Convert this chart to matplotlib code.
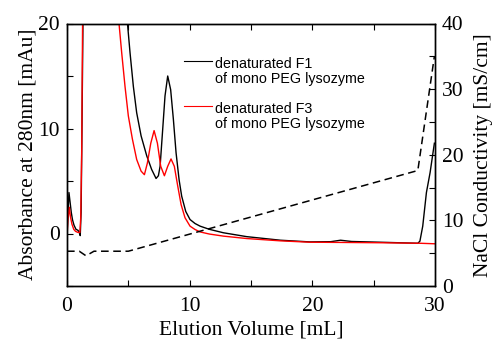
import numpy as np
import matplotlib
matplotlib.use("Agg")
import matplotlib.pyplot as plt
from matplotlib.lines import Line2D
from matplotlib.legend_handler import HandlerLine2D
from matplotlib.ticker import MultipleLocator

# ---- data ----
f1_x = [0.0, 0.08, 0.16, 0.25, 0.35, 0.45, 0.57, 0.73, 0.9, 1.0, 1.08, 1.15, 1.22, 1.3, 1.4,
        4.7, 4.93, 5.14, 5.41, 5.68, 6.04, 6.5, 6.9, 7.26, 7.45, 7.59, 7.8, 7.99, 8.21,
        8.45, 8.67, 8.89, 9.14, 9.35, 9.68, 10.03, 10.44, 10.85, 11.6, 12.75, 14.65,
        17.4, 19.8, 21.5, 22.3, 23.2, 25.5, 28.6, 28.77, 29.0, 29.3, 29.6, 29.95]
f1_y = [-0.2, 2.0, 3.9, 3.0, 2.0, 1.3, 0.8, 0.4, 0.3, 0.1, -0.2, 2.0, 10.0, 20.0, 25.0,
        25.0, 20.0, 17.2, 14.0, 11.5, 9.3, 7.4, 6.1, 5.24, 5.5, 6.4, 9.9, 13.1, 15.0,
        13.7, 10.9, 7.7, 5.1, 3.55, 2.1, 1.33, 0.95, 0.7, 0.4, 0.07, -0.3,
        -0.64, -0.8, -0.78, -0.64, -0.76, -0.83, -0.93, -0.73, 0.7, 3.9, 5.8, 8.6]

f3_x = [0.0, 0.08, 0.19, 0.28, 0.4, 0.55, 0.7, 0.9, 1.05, 1.12, 1.2, 1.27, 1.35,
        4.1, 4.24, 4.46, 4.73, 5.0, 5.33, 5.68, 6.04, 6.31, 6.55, 6.83, 7.1, 7.37,
        7.64, 7.94, 8.21, 8.48, 8.75, 9.03, 9.3, 9.62, 10.03, 10.44, 10.85, 11.6,
        12.75, 14.65, 17.4, 19.8, 22.3, 25.5, 28.8, 30.0]
f3_y = [-0.3, 1.3, 2.5, 1.6, 0.9, 0.4, 0.2, 0.1, 0.1, 1.5, 8.0, 20.0, 25.0,
        25.0, 20.0, 17.2, 14.0, 11.2, 9.0, 7.05, 5.94, 5.6, 6.7, 8.6, 9.8, 8.6,
        6.4, 5.5, 6.4, 7.1, 6.4, 4.5, 2.76, 1.5, 0.7, 0.38, 0.15, -0.05,
        -0.25, -0.48, -0.7, -0.83, -0.85, -0.88, -0.93, -0.98]

cond_x = [0.0, 1.0, 1.55, 2.2, 5.0, 28.6, 29.95]
cond_y = [5.3, 5.3, 4.6, 5.3, 5.3, 17.6, 35.0]

labels = ["denaturated F1\nof mono PEG lysozyme",
          "denaturated F3\nof mono PEG lysozyme"]

serif = "Liberation Serif"
sans = "Liberation Sans"
plt.rcParams["font.family"] = serif

fig = plt.figure(figsize=(4.93, 3.40), dpi=100)
ax = fig.add_axes([67 / 493, 1 - 286 / 340, (435 - 67) / 493, (286 - 23.5) / 340])
ax2 = ax.twinx()

ax.plot(f1_x, f1_y, color="black", lw=1.0)
ax.plot(f3_x, f3_y, color="red", lw=1.0)
ax2.plot(cond_x, cond_y, color="black", lw=1.1, linestyle=(0, (5, 3)))

ax.set_xlim(0, 30)
ax.set_ylim(-5, 20)
ax2.set_ylim(0, 40)

ax.xaxis.set_major_locator(MultipleLocator(10))
ax.xaxis.set_minor_locator(MultipleLocator(5))
ax.yaxis.set_major_locator(MultipleLocator(10))
ax.yaxis.set_minor_locator(MultipleLocator(5))
ax2.yaxis.set_major_locator(MultipleLocator(10))
ax2.yaxis.set_minor_locator(MultipleLocator(5))

for a in (ax, ax2):
    for s in a.spines.values():
        s.set_linewidth(1.0)
ax.tick_params(which="both", direction="in", top=True, right=False, length=4, width=0.8,
               labelsize=15.5)
ax.tick_params(axis="y", pad=5)
ax.tick_params(axis="x", pad=8)
ax2.tick_params(which="both", direction="in", length=4, width=0.8, labelsize=15.5, pad=5)

ax.set_xlabel("Elution Volume [mL]", fontsize=15.5, labelpad=3)
ax.set_ylabel("Absorbance at 280nm [mAu]", fontsize=15.5, labelpad=1)
ax2.set_ylabel("NaCl Conductivity [mS/cm]", fontsize=15.5, labelpad=7.5)


class TopLineHandler(HandlerLine2D):
    def create_artists(self, legend, orig_handle, xdescent, ydescent, width, height,
                       fontsize, trans):
        arts = super().create_artists(legend, orig_handle, xdescent, ydescent, width,
                                      height, fontsize, trans)
        shift = fontsize * 0.8
        for a in arts:
            if isinstance(a, Line2D):
                a.set_ydata(np.asarray(a.get_ydata(), dtype=float) + shift)
        return arts


h1 = Line2D([], [], color="black", lw=0.8)
h3 = Line2D([], [], color="red", lw=0.8)
leg = ax.legend([h1, h3], labels, loc="upper left", bbox_to_anchor=(0.298, 0.898),
                frameon=False, borderpad=0, handlelength=2.0, handletextpad=0.15,
                labelspacing=1.15, prop={"family": sans, "size": 10.3},
                handler_map={Line2D: TopLineHandler()})
for t in leg.get_texts():
    t.set_linespacing(1.05)

fig.savefig("out.png", dpi=100)
